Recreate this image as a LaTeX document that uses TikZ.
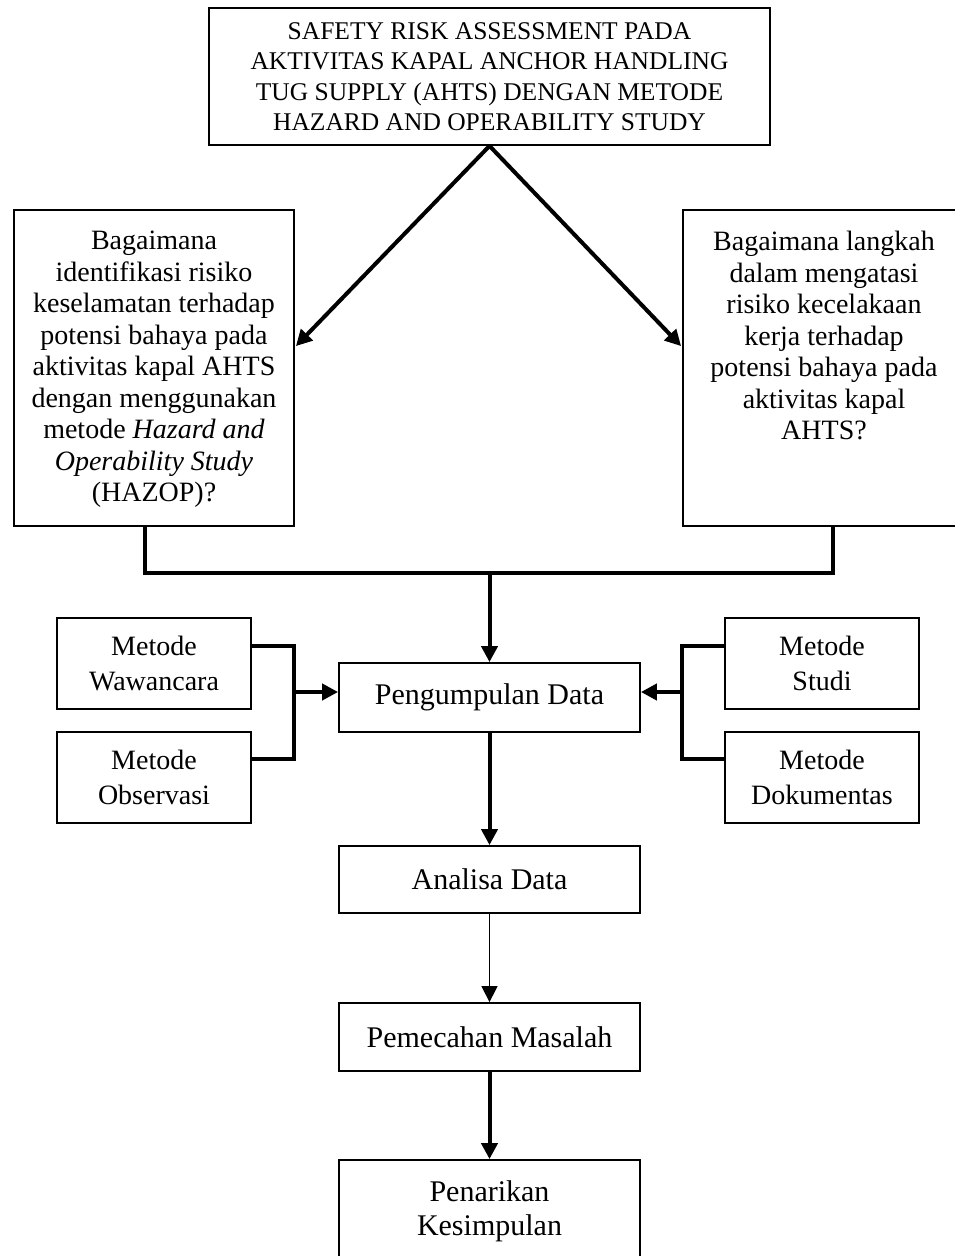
\documentclass[tikz,border=0pt]{standalone}
\usepackage{fontspec}
\setmainfont{Liberation Serif}
\usetikzlibrary{arrows.meta,calc}
\begin{document}
\begin{tikzpicture}[x=1pt,y=-1pt,
  frame/.style={draw, line width=1.8pt, inner sep=0pt},
  txt/.style={inner sep=0pt, align=center, font=\fontsize{28}{31.5}\selectfont},
  topbox/.style={frame, align=center, font=\fontsize{25.5}{30.5}\selectfont},
  mbox/.style={frame, align=center, font=\fontsize{28}{35}\selectfont},
  cbox/.style={frame, align=center, font=\fontsize{30}{34}\selectfont},
  conn/.style={line width=4pt},
  tip/.style={-{Triangle[length=16pt,width=16pt]}},
  thinconn/.style={line width=1.3pt}
]
\useasboundingbox (0,0) rectangle (955,1256);

% title
\node[topbox, minimum width=561pt, minimum height=137pt] (top) at (489.5,76.5)
  {SAFETY RISK ASSESSMENT PADA\\AKTIVITAS KAPAL ANCHOR HANDLING\\TUG SUPPLY (AHTS) DENGAN METODE\\HAZARD AND OPERABILITY STUDY};

% questions
\node[frame, minimum width=280pt, minimum height=316pt] (q1) at (154,368) {};
\node[txt, anchor=north] (q1t) at ($(q1.north)+(0,22)$)
  {Bagaimana\\identifikasi risiko\\keselamatan terhadap\\potensi bahaya pada\\aktivitas kapal AHTS\\dengan menggunakan\\metode \textit{Hazard and}\\\textit{Operability Study}\\(HAZOP)?};
\node[frame, minimum width=274pt, minimum height=316pt] (q2) at (820,368) {};
\node[txt, anchor=north] (q2t) at ($(q2.north)+(4,22)$)
  {Bagaimana langkah\\dalam mengatasi\\risiko kecelakaan\\kerja terhadap\\potensi bahaya pada\\aktivitas kapal\\AHTS?};

% data collection
\node[cbox, minimum width=301pt, minimum height=69pt] (pd) at (489.5,697.5) {Pengumpulan Data};
\node[mbox, minimum width=194pt, minimum height=91pt] (mw) at (154,663.5) {Metode\\Wawancara};
\node[mbox, minimum width=194pt, minimum height=91pt] (mo) at (154,777.5) {Metode\\Observasi};
\node[mbox, minimum width=194pt, minimum height=91pt] (ms) at (822,663.5) {Metode\\Studi};
\node[mbox, minimum width=194pt, minimum height=91pt] (mdk) at (822,777.5) {Metode\\Dokumentas};

\node[cbox, minimum width=301pt, minimum height=67pt] (ad) at (489.5,879.5) {Analisa Data};
\node[cbox, minimum width=301pt, minimum height=68pt] (pm) at (489.5,1037) {Pemecahan Masalah};
\node[cbox, minimum width=301pt, minimum height=102pt] (pk) at (489.5,1211) {Penarikan\\Kesimpulan};

% connectors
\coordinate (q1in) at ($(q1.north east)+(1,137)$);
\coordinate (q2in) at ($(q2.north west)+(-1,137)$);
\draw[conn, tip] (top.south) -- (q1in);
\draw[conn, tip] (top.south) -- (q2in);

\coordinate (q1b) at ($(q1.south)+(-9,0)$);
\coordinate (q2b) at ($(q2.south)+(13,0)$);
\coordinate (merge) at (489.5,573);
\draw[conn] (q1b) |- (merge) -| (q2b);
\draw[conn, tip] (merge) -- (pd.north);

\coordinate (lbar) at (294,692);
\coordinate (rbar) at (682,692);
\draw[conn] ($(mw.east)+(0,-17.5)$) -| (lbar |- 0,646) -- (lbar |- 0,759) -- ($(mo.east)+(0,-18.5)$);
\draw[conn, tip] (lbar) -- (pd.west |- lbar);
\draw[conn] ($(ms.west)+(0,-17.5)$) -| (rbar |- 0,646) -- (rbar |- 0,759) -- ($(mdk.west)+(0,-18.5)$);
\draw[conn, tip] (rbar) -- (pd.east |- rbar);

\draw[conn, tip] (pd.south) -- (ad.north);
\draw[thinconn, tip] (ad.south) -- (pm.north);
\draw[conn, tip] (pm.south) -- (pk.north);
\end{tikzpicture}
\end{document}
